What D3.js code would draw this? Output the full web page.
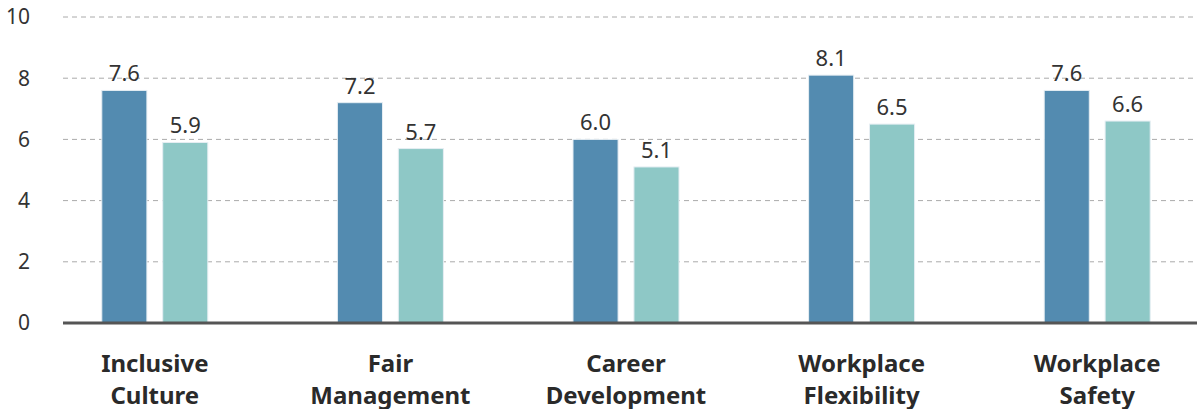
<!DOCTYPE html>
<html>
<head>
<meta charset="utf-8">
<script src="https://cdn.jsdelivr.net/npm/d3@7"></script>
<style>
  html, body { margin: 0; padding: 0; background: #fff; }
  svg { display: block; font-family: "Noto Sans", "Open Sans", sans-serif; }
</style>
</head>
<body>
<svg id="chart" width="1197" height="409"></svg>
<script>
const categories = [["Inclusive", "Culture"], ["Fair", "Management"], ["Career", "Development"], ["Workplace", "Flexibility"], ["Workplace", "Safety"]];
const seriesA = [7.6, 7.2, 6.0, 8.1, 7.6];
const seriesB = [5.9, 5.7, 5.1, 6.5, 6.6];
const yTicks = [0, 2, 4, 6, 8, 10];
const colors = ["#538bb0", "#8ec8c6"];

const svg = d3.select("#chart");
const W = 1197, H = 409;
const y = d3.scaleLinear().domain([0, 10]).range([323, 17]);
const x = d3.scaleBand().domain(d3.range(categories.length)).range([37, 1215]).padding(0);
const sub = d3.scaleBand().domain([0, 1]).range([-53, 53]).paddingInner(0.26);

// grid
svg.append("g").selectAll("line").data(yTicks.filter(d => d > 0)).join("line")
  .attr("x1", 63).attr("x2", W).attr("y1", d => y(d)).attr("y2", d => y(d))
  .attr("stroke", "#aaa").attr("stroke-width", 1).attr("stroke-dasharray", "5,4");

// y tick labels
svg.append("g").selectAll("text").data(yTicks).join("text")
  .attr("x", 30).attr("y", d => y(d)).attr("dy", "0.35em")
  .attr("text-anchor", "end").attr("font-size", 21).attr("fill", "#333")
  .text(d => d);

const groups = svg.append("g").selectAll("g").data(categories).join("g")
  .attr("transform", (d, i) => `translate(${x(i) + x.bandwidth() / 2},0)`);

[seriesA, seriesB].forEach((series, s) => {
  groups.append("rect")
    .attr("x", sub(s)).attr("width", sub.bandwidth())
    .attr("y", (d, i) => y(series[i])).attr("height", (d, i) => y(0) - y(series[i]))
    .attr("fill", colors[s]).attr("stroke", "#e6eef3").attr("stroke-width", 1);
  groups.append("text")
    .attr("x", sub(s) + sub.bandwidth() / 2).attr("y", (d, i) => y(series[i]) - 9)
    .attr("text-anchor", "middle").attr("font-size", 22).attr("fill", "#333")
    .text((d, i) => series[i].toFixed(1));
});

// baseline
svg.append("line").attr("x1", 63).attr("x2", W).attr("y1", y(0)).attr("y2", y(0))
  .attr("stroke", "#555").attr("stroke-width", 3);

// category labels
groups.append("text")
  .attr("text-anchor", "middle").attr("font-size", 24).attr("font-weight", "bold").attr("fill", "#2a2a2a")
  .selectAll("tspan").data(d => d).join("tspan")
  .attr("x", 0).attr("y", (d, j) => 372 + j * 32).text(d => d);
</script>
</body>
</html>
